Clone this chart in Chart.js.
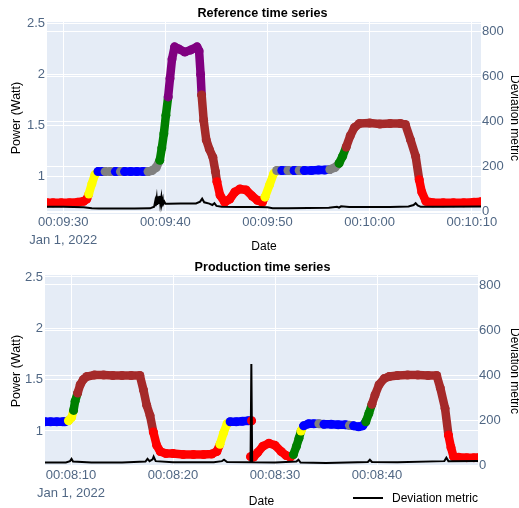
<!DOCTYPE html>
<html>
<head>
<meta charset="utf-8">
<script src="https://cdn.jsdelivr.net/npm/chart.js@4/dist/chart.umd.min.js"></script>
<style>
body { margin: 0; background: #fff; font-family: "Liberation Sans", Arial, sans-serif; }
#wrap { position: relative; width: 519px; height: 508px; }
canvas { position: absolute; left: 0; }
.title { position: absolute; left: 0; width: 525px; text-align: center; font-weight: bold; font-size: 12.6px; line-height: 14px; color: #000; }
#legline { position: absolute; left: 353px; top: 497px; width: 30px; height: 2px; background: #000; }
#legtext { position: absolute; left: 392px; top: 491px; font-size: 12px; line-height: 14px; color: #000; }
</style>
</head>
<body>
<div id="wrap">
  <canvas id="refChart" width="519" height="253" style="top:0"></canvas>
  <canvas id="prodChart" width="519" height="255" style="top:253px"></canvas>
  <div class="title" style="top:6px">Reference time series</div>
  <div class="title" style="top:260px">Production time series</div>
  <div id="legline"></div>
  <div id="legtext">Deviation metric</div>
</div>
<script>
// seconds after 00:09:00
const refTime = [28.4, 29.0, 29.8, 30.6, 31.4, 32.0, 32.3, 32.5, 32.8, 33.1, 33.4, 33.8, 34.1, 34.6, 35.1, 35.6, 36.0, 36.6, 37.2, 37.8,
    38.3, 38.7, 39.1, 39.45, 39.65, 39.85, 40.05, 40.27, 40.45, 40.65, 40.9, 41.3, 41.9, 42.5, 43.1, 43.3, 43.45, 43.55, 43.75, 44.0,
    44.3, 44.65, 44.9, 45.05, 45.35, 45.8, 46.3, 46.8, 47.3, 47.9, 48.5, 49.0, 49.5, 49.75, 50.2, 50.6, 50.9, 51.4, 52.0, 52.6,
    53.1, 53.6, 54.3, 55.0, 55.6, 56.1, 56.6, 57.0, 57.35, 57.7, 58.1, 58.5, 59.0, 60.0, 61.0, 62.0, 63.0, 63.5, 64.0, 64.5,
    64.85, 65.1, 65.5, 66.2, 67.2, 68.2, 69.2, 70.2, 70.9];
const refPower = [0.745, 0.745, 0.745, 0.745, 0.75, 0.76, 0.78, 0.83, 0.93, 1.02, 1.05, 1.05, 1.05, 1.05, 1.05, 1.05, 1.05, 1.05, 1.05, 1.05,
    1.05, 1.06, 1.09, 1.16, 1.28, 1.42, 1.6, 1.78, 1.96, 2.15, 2.27, 2.25, 2.22, 2.24, 2.27, 2.23, 2.0, 1.8, 1.55, 1.36,
    1.27, 1.19, 1.05, 0.95, 0.82, 0.75, 0.78, 0.85, 0.88, 0.87, 0.81, 0.77, 0.75, 0.8, 0.92, 1.03, 1.06, 1.06, 1.06, 1.06,
    1.06, 1.06, 1.06, 1.065, 1.065, 1.07, 1.09, 1.13, 1.2, 1.29, 1.4, 1.48, 1.52, 1.525, 1.515, 1.52, 1.52, 1.51, 1.36, 1.2,
    0.97, 0.85, 0.76, 0.745, 0.745, 0.745, 0.745, 0.75, 0.755];
const refColor = ['red', 'red', 'red', 'red', 'red', 'red', 'red', 'yellow', 'yellow', 'yellow', 'blue', 'blue', 'gray', 'gray', 'blue', 'gray', 'blue', 'blue', 'blue', 'blue',
    'gray', 'gray', 'gray', 'green', 'green', 'green', 'green', 'purple', 'purple', 'purple', 'purple', 'purple', 'purple', 'purple', 'purple', 'purple', 'purple', 'brown', 'brown', 'brown',
    'brown', 'brown', 'brown', 'red', 'red', 'red', 'red', 'red', 'red', 'red', 'red', 'red', 'red', 'yellow', 'yellow', 'yellow', 'gray', 'blue', 'gray', 'blue',
    'gray', 'blue', 'blue', 'blue', 'blue', 'gray', 'gray', 'green', 'green', 'brown', 'brown', 'brown', 'brown', 'brown', 'brown', 'brown', 'brown', 'brown', 'brown', 'brown',
    'red', 'red', 'red', 'red', 'red', 'red', 'red', 'red', 'red'];
const refDevTime = [28.4, 30, 32, 32.8, 33.5, 35, 37, 38.5, 38.9, 39.0, 39.05, 39.15, 39.2, 39.3, 39.35, 39.45, 39.5, 39.6, 39.65, 39.75,
    39.8, 39.9, 40.0, 40.3, 41.5, 43.0, 43.4, 43.6, 43.8, 44.3, 44.6, 44.8, 45.0, 45.5, 47, 49, 50, 50.5, 52, 54,
    56, 56.8, 57.0, 57.2, 58, 60, 62, 63.8, 64.3, 64.5, 64.7, 65, 67, 70.9];
const refDev = [22, 22, 20, 16, 14, 14, 14, 15, 22, 45, 25, 60, 30, 68, 35, 70, 38, 65, 35, 55,
    35, 45, 36, 36, 37, 37, 45, 58, 42, 36, 30, 38, 26, 22, 21, 21, 20, 16, 16, 17,
    18, 22, 18, 24, 21, 21, 21, 23, 30, 38, 28, 22, 22, 23];

// seconds after 00:08:00, null breaks the trace
const prodTime = [7.45, 8.0, 8.6, 9.2, 9.4, 9.75, 10.05, 10.25, 10.4, 10.65, 10.9, 11.2, 11.55, 12.3, 13.2, 14.1, 15.0, 15.9, 16.75, 17.1,
    17.42, 17.75, 18.07, 18.4, 18.75, 19.3, 20.0, 21.0, 22.0, 23.0, 23.8, 24.3, 24.6, 24.95, 25.3, 25.6, 26.2, 26.8, 27.4, 27.7,
    null, 27.6, 27.9, 28.3, 28.8, 29.4, 30.0, 30.6, 31.1, 31.5, 31.8, 32.1, 32.35, 32.55, 32.8, 33.3, 33.8, 34.3, 34.8, 35.5,
    36.2, 36.9, 37.3, 37.7, 38.2, 38.6, 38.9, 39.2, 39.5, 39.8, 40.2, 40.7, 41.2, 42.0, 43.0, 44.0, 45.0, 45.85, 46.2, 46.67,
    47.0, 47.25, 47.5, 48.0, 48.8, 49.5, 49.9];
const prodPower = [1.09, 1.09, 1.09, 1.09, 1.09, 1.1, 1.13, 1.2, 1.29, 1.37, 1.45, 1.5, 1.53, 1.545, 1.545, 1.54, 1.54, 1.54, 1.54, 1.4,
    1.25, 1.15, 0.99, 0.86, 0.8, 0.78, 0.78, 0.77, 0.77, 0.77, 0.775, 0.8, 0.87, 0.98, 1.07, 1.09, 1.09, 1.095, 1.1, 1.1,
    null, 0.75, 0.745, 0.79, 0.85, 0.88, 0.86, 0.8, 0.76, 0.745, 0.77, 0.85, 0.93, 1.0, 1.05, 1.07, 1.07, 1.07, 1.065, 1.065,
    1.06, 1.06, 1.055, 1.05, 1.04, 1.05, 1.09, 1.17, 1.26, 1.35, 1.45, 1.51, 1.53, 1.54, 1.545, 1.545, 1.54, 1.54, 1.42, 1.22,
    0.96, 0.84, 0.75, 0.745, 0.74, 0.74, 0.74];
const prodColor = ['blue', 'blue', 'blue', 'blue', 'blue', 'yellow', 'yellow', 'green', 'green', 'brown', 'brown', 'brown', 'brown', 'brown', 'brown', 'brown', 'brown', 'brown', 'brown', 'brown',
    'brown', 'brown', 'red', 'red', 'red', 'red', 'red', 'red', 'red', 'red', 'red', 'red', 'yellow', 'yellow', 'yellow', 'blue', 'blue', 'blue', 'blue', 'red',
    null, 'red', 'red', 'red', 'red', 'red', 'red', 'red', 'red', 'red', 'green', 'green', 'green', 'yellow', 'blue', 'blue', 'blue', 'gray', 'blue', 'blue',
    'blue', 'blue', 'gray', 'blue', 'blue', 'blue', 'green', 'green', 'brown', 'brown', 'brown', 'brown', 'brown', 'brown', 'brown', 'brown', 'brown', 'brown', 'brown', 'brown',
    'red', 'red', 'red', 'red', 'red', 'red', 'red'];
const prodDevTime = [7.45, 9.5, 9.9, 10.05, 10.2, 12, 15, 17.3, 17.5, 17.7, 18.0, 18.1, 18.3, 20, 24, 24.8, 25.0, 25.3, 27.6, 27.68,
    27.76, 30, 32.1, 32.3, 32.5, 35, 39.1, 39.3, 39.5, 42, 46.6, 46.8, 47.0, 49.9];
const prodDev = [14, 14, 20, 30, 18, 14, 14, 18, 30, 20, 28, 40, 20, 15, 15, 20, 26, 16, 15, 450,
    15, 14, 18, 26, 14, 12, 16, 26, 16, 15, 20, 35, 20, 21];

const powerTicks = [1, 1.5, 2, 2.5];
const devTicks = [0, 200, 400, 600, 800];
const refTimeTicks = [30, 40, 50, 60, 70];
const refTickLabels = ['00:09:30', '00:09:40', '00:09:50', '00:10:00', '00:10:10'];
const prodTimeTicks = [10, 20, 30, 40];
const prodTickLabels = ['00:08:10', '00:08:20', '00:08:30', '00:08:40'];
const dateLabel = 'Jan 1, 2022';

const FONT = '"Liberation Sans", Arial, sans-serif';
const TICK_COLOR = '#506784';

const plotBg = {
    id: 'plotBg',
    beforeDraw(chart) {
        const a = chart.chartArea;
        const ctx = chart.ctx;
        ctx.save();
        ctx.fillStyle = '#e5ecf6';
        ctx.fillRect(a.left, a.top, a.right - a.left, a.bottom - a.top);
        ctx.restore();
    }
};

function points(xs, ys)
{
    let out = [];
    for (let i = 0; i < xs.length; i++)
        out.push({x: xs[i], y: ys[i]});
    return out;
}

function draw(id, o)
{
    new Chart(document.getElementById(id), {
        type: 'scatter',
        data: {
            datasets: [{
                label: 'Deviation metric',
                data: points(o.devTime, o.dev),
                yAxisID: 'y2',
                showLine: true,
                borderColor: '#000',
                borderWidth: 2,
                pointRadius: 0,
                order: 0
            }, {
                label: 'Power',
                data: points(o.time, o.power),
                yAxisID: 'y',
                showLine: true,
                borderWidth: 8.5,
                borderCapStyle: 'round',
                borderJoinStyle: 'round',
                segment: { borderColor: c => o.color[c.p0DataIndex] },
                pointRadius: 4.5,
                pointBorderWidth: 0,
                pointBackgroundColor: o.color,
                order: 1
            }]
        },
        options: {
            responsive: false,
            animation: false,
            layout: { padding: { top: 22, left: 0, right: 0, bottom: 0 } },
            plugins: { legend: { display: false }, tooltip: { enabled: false } },
            scales: {
                x: {
                    type: 'linear',
                    position: 'bottom',
                    min: o.xMin,
                    max: o.xMax,
                    afterBuildTicks: s => { s.ticks = o.xTicks.map(v => ({value: v})); },
                    afterFit: s => { s.height = o.xHeight; },
                    ticks: {
                        autoSkip: false,
                        maxRotation: 0,
                        padding: 0,
                        color: TICK_COLOR,
                        font: { family: FONT, size: 13, lineHeight: 1.35 },
                        callback: (v, i) => i == 0 ? [o.xLabels[0], dateLabel] : o.xLabels[i]
                    },
                    grid: { color: '#fff', drawTicks: false },
                    border: { display: false },
                    title: { display: true, text: 'Date', color: '#000', font: { family: FONT, size: 12, lineHeight: 1 }, padding: { top: 4, bottom: 0 } }
                },
                y: {
                    position: 'left',
                    min: o.yMin,
                    max: o.yMax,
                    afterBuildTicks: s => { s.ticks = powerTicks.map(v => ({value: v})); },
                    afterFit: s => { s.width = o.leftW; },
                    ticks: { padding: 2, color: TICK_COLOR, font: { family: FONT, size: 13 }, callback: v => String(v) },
                    grid: { color: '#fff', drawTicks: false },
                    border: { display: false },
                    title: { display: true, text: 'Power (Watt)', color: '#000', font: { family: FONT, size: 12.5, lineHeight: 1 }, padding: { top: 10, bottom: 0 } }
                },
                y2: {
                    position: 'right',
                    min: o.y2Min,
                    max: o.y2Max,
                    afterBuildTicks: s => { s.ticks = devTicks.map(v => ({value: v})); },
                    afterFit: s => { s.width = o.rightW; },
                    ticks: { padding: 1, color: TICK_COLOR, font: { family: FONT, size: 13 }, callback: v => String(v) },
                    grid: { color: '#fff', drawTicks: false, lineWidth: c => c.tick && c.tick.value == 0 ? 2 : 1 },
                    border: { display: false },
                    title: { display: true, text: 'Deviation metric', color: '#000', font: { family: FONT, size: 12, lineHeight: 1 }, padding: { top: -1, bottom: 0 } }
                }
            }
        },
        plugins: [plotBg]
    });
}

draw('refChart', {
    time: refTime, power: refPower, color: refColor, devTime: refDevTime, dev: refDev,
    xMin: 28.41, xMax: 70.9, xTicks: refTimeTicks, xLabels: refTickLabels,
    yMin: 0.635, yMax: 2.513, y2Min: -10, y2Max: 843,
    leftW: 47, rightW: 38, xHeight: 39
});

draw('prodChart', {
    time: prodTime, power: prodPower, color: prodColor, devTime: prodDevTime, dev: prodDev,
    xMin: 7.45, xMax: 49.9, xTicks: prodTimeTicks, xLabels: prodTickLabels,
    yMin: 0.649, yMax: 2.519, y2Min: -6, y2Max: 844,
    leftW: 45, rightW: 41, xHeight: 41
});
</script>
</body>
</html>
